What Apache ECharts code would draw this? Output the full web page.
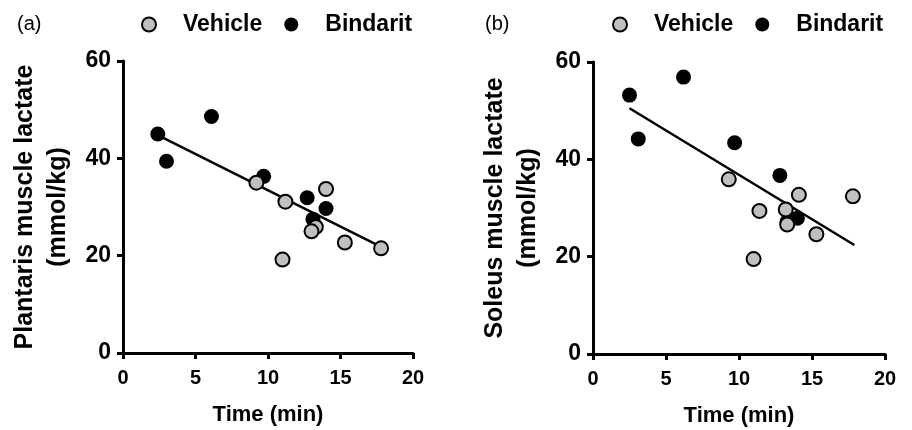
<!DOCTYPE html>
<html>
<head>
<meta charset="utf-8">
<script src="https://cdn.jsdelivr.net/npm/echarts@6/dist/echarts.min.js"></script>
<style>
  html, body { margin: 0; padding: 0; background: #fff; }
  #chart { width: 912px; height: 430px; }
</style>
</head>
<body>
<div id="chart"></div>
<script>
// (a) plantaris
const plantarisVehicleTime = [9.2, 11.2, 14.0, 11.0, 13.3, 13.0, 15.3, 17.8]
const plantarisVehicle = [35.0, 31.1, 33.7, 19.2, 25.9, 25.0, 22.7, 21.5]
const plantarisBindaritTime = [2.4, 3.0, 6.1, 9.7, 12.7, 14.0, 13.1]
const plantarisBindarit = [45.0, 39.4, 48.6, 36.3, 31.9, 29.7, 27.5]
const plantarisFitTime = [2.5, 17.8]
const plantarisFit = [44.6, 21.8]

// (b) soleus
const soleusVehicleTime = [9.3, 11.4, 13.2, 14.1, 13.3, 11.0, 15.3, 17.8]
const soleusVehicle = [35.9, 29.4, 29.7, 32.7, 26.6, 19.5, 24.6, 32.4]
const soleusBindaritTime = [2.5, 3.1, 6.2, 9.7, 12.8, 14.0, 13.3]
const soleusBindarit = [53.2, 44.2, 56.9, 43.4, 36.7, 27.9, 27.2]
const soleusFitTime = [2.5, 17.9]
const soleusFit = [50.5, 22.4]

const xTicks = [0, 5, 10, 15, 20]
const yTicks = [0, 20, 40, 60]

const font = 'Liberation Sans, Arial, Helvetica, sans-serif'
const grey = '#c0c0c0'

function pairs(xs, ys) {
  return xs.map((x, i) => [x, ys[i]])
}

function xAxis(gridIndex) {
  return {
    type: 'value',
    gridIndex: gridIndex,
    min: xTicks[0],
    max: xTicks[xTicks.length - 1],
    interval: xTicks[1] - xTicks[0],
    name: 'Time (min)',
    nameLocation: 'middle',
    nameGap: 51,
    nameTextStyle: { fontFamily: font, fontWeight: 'bold', fontSize: 22, color: '#000' },
    splitLine: { show: false },
    axisLine: { lineStyle: { color: '#000', width: 3 } },
    axisTick: { length: 6, lineStyle: { color: '#000', width: 3 } },
    axisLabel: { margin: 15, fontFamily: font, fontWeight: 'bold', fontSize: 20, color: '#000' }
  }
}

function yAxis(gridIndex, name) {
  return {
    type: 'value',
    gridIndex: gridIndex,
    min: yTicks[0],
    max: yTicks[yTicks.length - 1],
    interval: yTicks[1] - yTicks[0],
    name: name,
    nameLocation: 'middle',
    nameGap: 48,
    nameTextStyle: { fontFamily: font, fontWeight: 'bold', fontSize: 25, lineHeight: 33, color: '#000' },
    splitLine: { show: false },
    axisLine: { show: true, lineStyle: { color: '#000', width: 3 } },
    axisTick: { show: true, length: 6, lineStyle: { color: '#000', width: 3 } },
    axisLabel: { margin: 12, fontFamily: font, fontWeight: 'bold', fontSize: 23, color: '#000' }
  }
}

function legend(left) {
  return {
    left: left,
    top: 13,
    padding: 0,
    itemGap: 22,
    itemWidth: 14,
    itemHeight: 14,
    data: [
      { name: 'Vehicle', icon: 'circle', itemStyle: { color: grey, borderColor: '#000', borderWidth: 2 } },
      { name: 'Bindarit', icon: 'circle' }
    ],
    textStyle: { fontFamily: font, fontWeight: 'bold', fontSize: 23, color: '#000', padding: [0, 0, 0, 22] }
  }
}

function groupSeries(idx, vt, v, bt, b, ft, f) {
  return [{
    name: 'fit',
    type: 'line',
    xAxisIndex: idx,
    yAxisIndex: idx,
    data: pairs(ft, f),
    showSymbol: false,
    symbol: 'none',
    lineStyle: { color: '#000', width: 2.5 },
    z: 1
  }, {
    name: 'Bindarit',
    type: 'scatter',
    xAxisIndex: idx,
    yAxisIndex: idx,
    data: pairs(bt, b),
    symbolSize: 15,
    itemStyle: { color: '#000', opacity: 1 },
    z: 2
  }, {
    name: 'Vehicle',
    type: 'scatter',
    xAxisIndex: idx,
    yAxisIndex: idx,
    data: pairs(vt, v),
    symbolSize: 14,
    itemStyle: { color: grey, borderColor: '#000', borderWidth: 2, opacity: 1 },
    z: 3
  }]
}

const chart = echarts.init(document.getElementById('chart'))
chart.setOption({
  animation: false,
  backgroundColor: '#fff',
  title: [
    { text: '(a)', left: 12, top: 9, textStyle: { fontFamily: font, fontWeight: 'normal', fontSize: 20, color: '#000' } },
    { text: '(b)', left: 480, top: 9, textStyle: { fontFamily: font, fontWeight: 'normal', fontSize: 20, color: '#000' } }
  ],
  legend: [legend(141), legend(612)],
  grid: [
    { left: 123, top: 61, width: 290, height: 292, outerBoundsMode: 'none' },
    { left: 593, top: 62, width: 292, height: 292, outerBoundsMode: 'none' }
  ],
  xAxis: [xAxis(0), xAxis(1)],
  yAxis: [
    yAxis(0, 'Plantaris muscle lactate\n(mmol/kg)'),
    yAxis(1, 'Soleus muscle lactate\n(mmol/kg)')
  ],
  series: [
    ...groupSeries(0, plantarisVehicleTime, plantarisVehicle, plantarisBindaritTime, plantarisBindarit, plantarisFitTime, plantarisFit),
    ...groupSeries(1, soleusVehicleTime, soleusVehicle, soleusBindaritTime, soleusBindarit, soleusFitTime, soleusFit)
  ]
})
</script>
</body>
</html>
